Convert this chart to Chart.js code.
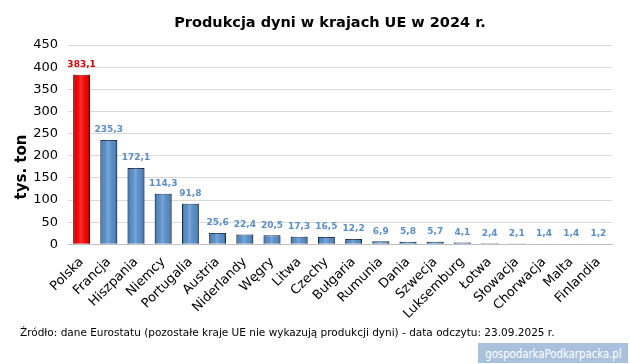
<!DOCTYPE html>
<html>
<head>
<meta charset="utf-8">
<script src="https://cdn.jsdelivr.net/npm/chart.js@4"></script>
<style>
  body { margin: 0; background: #fff; }
  #wrap { position: relative; width: 630px; height: 364px; font-family: "DejaVu Sans", Verdana, sans-serif; }
  #title {
    position: absolute; left: 0; top: 14px; width: 660px; text-align: center;
    font-size: 14.5px; font-weight: bold; color: #000;
  }
  #note { position: absolute; left: 20px; top: 326px; font-size: 10.5px; color: #000; white-space: nowrap; }
  #mark {
    position: absolute; left: 478px; top: 343px; width: 150px; height: 20px;
    background: #a9c1dc; color: #fff; line-height: 20px; text-align: center; overflow: hidden;
  }
  #mark span { display: inline-block; font: 13px "DejaVu Sans", sans-serif; transform: scaleX(0.78); transform-origin: center; white-space: nowrap; margin: 0 -30px; }
</style>
</head>
<body>
<div id="wrap">
  <canvas id="chart" width="630" height="364"></canvas>
  <div id="title">Produkcja dyni w krajach UE w 2024 r.</div>
  <div id="note">Źródło: dane Eurostatu (pozostałe kraje UE nie wykazują produkcji dyni) - data odczytu: 23.09.2025 r.</div>
  <div id="mark"><span>gospodarkaPodkarpacka.pl</span></div>
</div>
<script>
const countries = ['Polska', 'Francja', 'Hiszpania', 'Niemcy', 'Portugalia', 'Austria', 'Niderlandy', 'Węgry', 'Litwa', 'Czechy', 'Bułgaria', 'Rumunia', 'Dania', 'Szwecja', 'Luksemburg', 'Łotwa', 'Słowacja', 'Chorwacja', 'Malta', 'Finlandia'];
const production = [383.1, 235.3, 172.1, 114.3, 91.8, 25.6, 22.4, 20.5, 17.3, 16.5, 12.2, 6.9, 5.8, 5.7, 4.1, 2.4, 2.1, 1.4, 1.4, 1.2];
const yTicks = [0, 50, 100, 150, 200, 250, 300, 350, 400, 450];

const FONT = '"DejaVu Sans", Verdana, sans-serif';

// values above the bars, shading on each bar, rotated y title
const barExtras = {
  id: 'barExtras',
  afterDatasetsDraw(chart) {
    const ctx = chart.ctx;
    const meta = chart.getDatasetMeta(0);
    meta.data.forEach((bar, i) => {
      const left = bar.x - bar.width / 2;
      const h = bar.base - bar.y;
      const g = ctx.createLinearGradient(left, 0, left + bar.width, 0);
      g.addColorStop(0, 'rgba(0,0,0,0.35)');
      g.addColorStop(0.15, 'rgba(0,0,0,0.05)');
      g.addColorStop(0.45, 'rgba(255,255,255,0.18)');
      g.addColorStop(0.85, 'rgba(0,0,0,0.08)');
      g.addColorStop(1, 'rgba(0,0,0,0.4)');
      ctx.save();
      ctx.fillStyle = g;
      ctx.fillRect(left, bar.y, bar.width, h);
      ctx.restore();

      ctx.save();
      ctx.font = 'bold 9px ' + FONT;
      ctx.fillStyle = i === 0 ? '#d00000' : '#5b8ec4';
      ctx.textAlign = 'center';
      ctx.textBaseline = 'middle';
      ctx.fillText(production[i].toFixed(1).replace('.', ','), bar.x, bar.y - 10);
      ctx.restore();
    });

    ctx.save();
    ctx.translate(22, 167);
    ctx.rotate(-Math.PI / 2);
    ctx.font = 'bold 15px ' + FONT;
    ctx.fillStyle = '#000';
    ctx.textAlign = 'center';
    ctx.textBaseline = 'middle';
    ctx.fillText('tys. ton', 0, 0);
    ctx.restore();
  }
};

new Chart(document.getElementById('chart'), {
  type: 'bar',
  data: {
    labels: countries,
    datasets: [{
      data: production,
      backgroundColor: production.map((v, i) => i === 0 ? '#ff0000' : '#5a93d0'),
      borderColor: production.map((v, i) => i === 0 ? '#7a0000' : '#1f3a5f'),
      borderWidth: 1,
      barPercentage: 0.62,
      categoryPercentage: 1
    }]
  },
  options: {
    responsive: false,
    animation: false,
    layout: { padding: { left: 4, right: 18, top: 45, bottom: 40 } },
    plugins: {
      legend: { display: false },
      tooltip: { enabled: false }
    },
    scales: {
      x: {
        grid: { display: false },
        border: { color: '#bfbfbf' },
        ticks: {
          color: '#000',
          font: { family: FONT, size: 13 },
          maxRotation: 45,
          minRotation: 45,
          autoSkip: false,
          padding: 2
        }
      },
      y: {
        min: 0,
        max: 450,
        afterBuildTicks: axis => { axis.ticks = yTicks.map(v => ({ value: v })); },
        afterFit: axis => { axis.width = 64; },
        grid: { color: '#d9d9d9', drawTicks: false },
        border: { display: false },
        ticks: {
          color: '#000',
          font: { family: FONT, size: 13 },
          padding: 10
        }
      }
    }
  },
  plugins: [barExtras]
});
</script>
</body>
</html>
